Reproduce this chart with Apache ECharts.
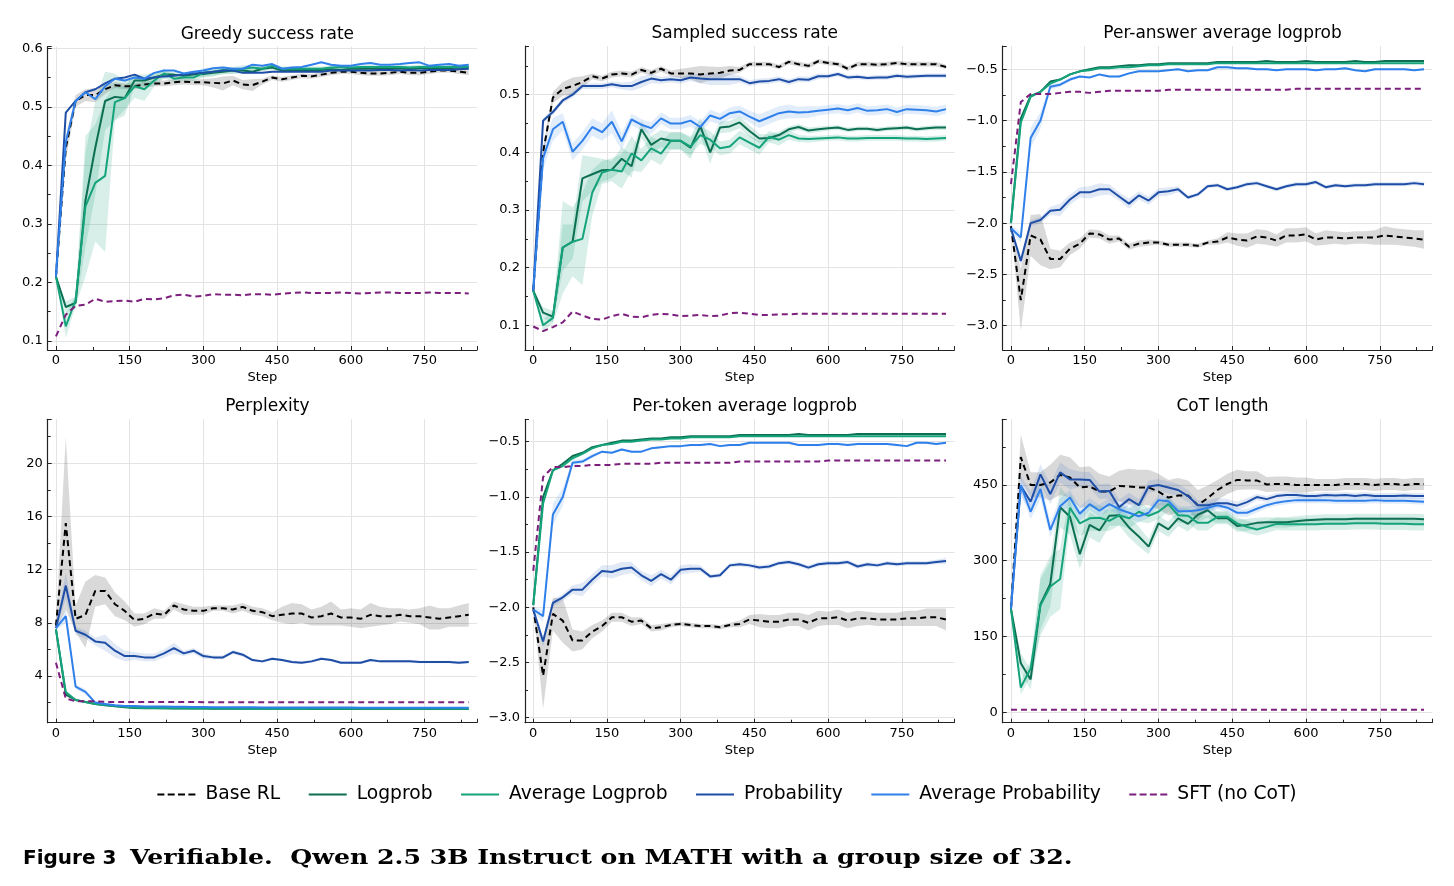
<!DOCTYPE html>
<html>
<head>
<meta charset="utf-8">
<title>Figure 3</title>
<style>
  html, body { margin: 0; padding: 0; background: #fff; }
  #main { width: 1454px; height: 886px; }
</style>
</head>
<body>
<div id="main"></div>
<script src="https://cdn.jsdelivr.net/npm/echarts@6/dist/echarts.min.js"></script>
<script>
// training steps (x)
var steps = [0,20,40,60,80,100,120,140,160,180,
  200,220,240,260,280,300,320,340,360,380,
  400,420,440,460,480,500,520,540,560,580,
  600,620,640,660,680,700,720,740,760,780,
  800,820,840];

var seriesNames = ['Base RL','Logprob','Average Logprob','Probability','Average Probability','SFT (no CoT)'];

// ---- Greedy success rate ----
var greedyBase = [0.21,0.43,0.51,0.52,0.52,0.53,0.537,0.535,0.535,0.538,
  0.54,0.54,0.542,0.543,0.542,0.542,0.541,0.54,0.545,0.538,
  0.537,0.543,0.55,0.547,0.55,0.553,0.552,0.555,0.558,0.56,
  0.56,0.558,0.557,0.557,0.558,0.56,0.558,0.558,0.56,0.562,
  0.562,0.56,0.558];
var greedyLogprob = [0.21,0.158,0.165,0.34,0.43,0.51,0.517,0.515,0.545,0.545,
  0.55,0.555,0.555,0.553,0.555,0.556,0.558,0.56,0.562,0.562,
  0.56,0.565,0.567,0.562,0.563,0.563,0.563,0.563,0.564,0.563,
  0.565,0.565,0.565,0.565,0.565,0.566,0.565,0.566,0.566,0.566,
  0.566,0.567,0.567];
var greedyAvgLogprob = [0.21,0.125,0.17,0.33,0.37,0.382,0.508,0.515,0.535,0.53,
  0.545,0.557,0.548,0.55,0.55,0.558,0.56,0.563,0.562,0.565,
  0.567,0.565,0.57,0.565,0.565,0.565,0.565,0.565,0.567,0.568,
  0.567,0.568,0.568,0.568,0.568,0.568,0.567,0.568,0.568,0.568,
  0.568,0.568,0.568];
var greedyProb = [0.21,0.49,0.51,0.525,0.53,0.54,0.548,0.55,0.555,0.548,
  0.55,0.552,0.553,0.555,0.557,0.558,0.56,0.562,0.562,0.558,
  0.558,0.558,0.56,0.56,0.56,0.56,0.56,0.56,0.562,0.562,
  0.562,0.562,0.562,0.563,0.563,0.562,0.563,0.562,0.563,0.563,
  0.563,0.564,0.565];
var greedyAvgProb = [0.21,0.44,0.51,0.525,0.513,0.535,0.548,0.545,0.55,0.548,
  0.558,0.562,0.562,0.557,0.56,0.562,0.566,0.567,0.565,0.565,
  0.572,0.57,0.573,0.565,0.567,0.568,0.572,0.576,0.572,0.57,
  0.57,0.573,0.575,0.572,0.572,0.573,0.575,0.576,0.57,0.572,
  0.573,0.57,0.572];
var greedySFT = [0.108,0.145,0.16,0.162,0.172,0.167,0.168,0.169,0.167,0.172,
  0.171,0.173,0.178,0.179,0.176,0.177,0.18,0.179,0.179,0.178,
  0.18,0.18,0.179,0.181,0.182,0.183,0.182,0.182,0.182,0.183,
  0.182,0.181,0.182,0.183,0.183,0.182,0.182,0.182,0.183,0.182,
  0.182,0.182,0.181];
var greedyBaseSd = [0,0.02,0.01,0.01,0.012,0.008,0.005,0.005,0.005,0.005,
  0.005,0.005,0.005,0.005,0.005,0.005,0.008,0.012,0.008,0.008,
  0.01,0.005,0.004,0.004,0.004,0.004,0.004,0.004,0.004,0.004,
  0.004,0.004,0.004,0.004,0.004,0.004,0.004,0.004,0.004,0.004,
  0.004,0.004,0.004];
var greedyLogprobSd = [0,0.01,0.01,0.08,0.08,0.05,0.04,0.03,0.01,0.01,
  0.008,0.006,0.005,0.005,0.005,0.005,0.005,0.005,0.005,0.005,
  0.004,0.004,0.004,0.004,0.004,0.004,0.004,0.004,0.004,0.004,
  0.004,0.004,0.004,0.004,0.004,0.004,0.004,0.004,0.004,0.004,
  0.004,0.004,0.004];
var greedyAvgLogprobSd = [0,0.02,0.01,0.12,0.1,0.13,0.03,0.02,0.02,0.02,
  0.01,0.008,0.006,0.006,0.006,0.008,0.008,0.006,0.006,0.006,
  0.004,0.004,0.004,0.004,0.004,0.004,0.004,0.004,0.004,0.004,
  0.004,0.004,0.004,0.004,0.004,0.004,0.004,0.004,0.004,0.004,
  0.004,0.004,0.004];

// ---- Sampled success rate ----
var sampledBase = [0.16,0.4,0.495,0.51,0.515,0.522,0.532,0.528,0.535,0.537,
  0.535,0.543,0.538,0.545,0.537,0.537,0.537,0.535,0.537,0.538,
  0.542,0.543,0.553,0.553,0.553,0.548,0.557,0.553,0.55,0.558,
  0.555,0.553,0.545,0.553,0.553,0.552,0.553,0.555,0.553,0.553,
  0.553,0.553,0.548];
var sampledLogprob = [0.16,0.122,0.115,0.235,0.245,0.355,0.362,0.369,0.37,0.389,
  0.376,0.44,0.413,0.424,0.42,0.42,0.408,0.445,0.4,0.443,
  0.445,0.452,0.437,0.424,0.425,0.43,0.44,0.444,0.438,0.44,
  0.442,0.443,0.439,0.441,0.441,0.439,0.441,0.442,0.443,0.44,
  0.442,0.443,0.443];
var sampledAvgLogprob = [0.16,0.1,0.113,0.235,0.245,0.25,0.33,0.365,0.37,0.367,
  0.398,0.386,0.407,0.398,0.42,0.42,0.41,0.43,0.422,0.407,
  0.41,0.426,0.417,0.408,0.427,0.422,0.43,0.424,0.423,0.424,
  0.425,0.426,0.424,0.424,0.425,0.425,0.425,0.425,0.424,0.424,
  0.423,0.424,0.425];
var sampledProb = [0.16,0.455,0.47,0.49,0.5,0.515,0.515,0.515,0.518,0.515,
  0.515,0.522,0.528,0.525,0.527,0.525,0.53,0.528,0.527,0.527,
  0.527,0.527,0.52,0.523,0.524,0.527,0.522,0.527,0.526,0.532,
  0.532,0.536,0.53,0.531,0.529,0.53,0.53,0.533,0.531,0.532,
  0.533,0.533,0.533];
var sampledAvgProb = [0.16,0.39,0.44,0.453,0.401,0.42,0.444,0.435,0.453,0.419,
  0.457,0.448,0.442,0.459,0.45,0.45,0.455,0.444,0.464,0.458,
  0.468,0.471,0.462,0.454,0.461,0.468,0.471,0.469,0.47,0.472,
  0.474,0.476,0.473,0.477,0.472,0.473,0.475,0.47,0.475,0.474,
  0.473,0.471,0.475];
var sampledSFT = [0.098,0.09,0.097,0.105,0.124,0.117,0.111,0.11,0.116,0.12,
  0.115,0.114,0.118,0.12,0.119,0.116,0.117,0.118,0.116,0.117,
  0.121,0.122,0.12,0.118,0.118,0.119,0.119,0.12,0.12,0.12,
  0.12,0.12,0.12,0.12,0.12,0.12,0.12,0.12,0.12,0.12,
  0.12,0.12,0.12];
var sampledBaseSd = [0,0.01,0.01,0.012,0.015,0.01,0.005,0.005,0.005,0.005,
  0.005,0.005,0.005,0.005,0.005,0.008,0.01,0.015,0.012,0.01,
  0.008,0.005,0.004,0.004,0.004,0.004,0.004,0.004,0.004,0.004,
  0.004,0.004,0.004,0.004,0.004,0.004,0.004,0.004,0.004,0.004,
  0.004,0.004,0.004];
var sampledProbSd = [0,0.005,0.005,0.005,0.005,0.005,0.005,0.005,0.005,0.006,
  0.008,0.01,0.008,0.006,0.006,0.006,0.006,0.008,0.01,0.01,
  0.01,0.006,0.005,0.005,0.005,0.005,0.005,0.005,0.005,0.005,
  0.004,0.004,0.004,0.004,0.004,0.004,0.004,0.004,0.004,0.004,
  0.004,0.004,0.004];
var sampledAvgProbSd = [0,0.02,0.02,0.015,0.015,0.015,0.015,0.015,0.02,0.015,
  0.01,0.01,0.01,0.01,0.01,0.01,0.01,0.01,0.01,0.01,
  0.01,0.01,0.01,0.012,0.012,0.012,0.012,0.01,0.01,0.008,
  0.008,0.008,0.008,0.008,0.008,0.008,0.008,0.008,0.008,0.008,
  0.008,0.008,0.008];
var sampledLogprobSd = [0,0.01,0.01,0.04,0.03,0.04,0.03,0.02,0.015,0.02,
  0.02,0.015,0.015,0.015,0.015,0.015,0.02,0.015,0.02,0.01,
  0.01,0.01,0.01,0.008,0.006,0.006,0.005,0.005,0.005,0.005,
  0.004,0.004,0.004,0.004,0.004,0.004,0.004,0.004,0.004,0.004,
  0.004,0.004,0.004];
var sampledAvgLogprobSd = [0,0.01,0.01,0.08,0.06,0.08,0.04,0.02,0.02,0.03,
  0.03,0.02,0.02,0.02,0.015,0.015,0.015,0.015,0.015,0.012,
  0.012,0.012,0.012,0.012,0.01,0.01,0.008,0.006,0.006,0.005,
  0.005,0.005,0.005,0.005,0.005,0.005,0.005,0.005,0.005,0.005,
  0.005,0.005,0.005];

// ---- Per-answer average logprob ----
var answerBase = [-2.03,-2.75,-2.12,-2.16,-2.35,-2.35,-2.25,-2.2,-2.1,-2.11,
  -2.16,-2.15,-2.23,-2.2,-2.19,-2.19,-2.21,-2.21,-2.21,-2.22,
  -2.19,-2.18,-2.14,-2.16,-2.17,-2.13,-2.14,-2.17,-2.12,-2.12,
  -2.11,-2.16,-2.14,-2.14,-2.15,-2.14,-2.14,-2.14,-2.12,-2.13,
  -2.14,-2.15,-2.16];
var answerLogprob = [-2.0,-0.98,-0.76,-0.72,-0.62,-0.6,-0.55,-0.52,-0.5,-0.48,
  -0.48,-0.47,-0.46,-0.46,-0.45,-0.45,-0.44,-0.44,-0.44,-0.44,
  -0.44,-0.43,-0.43,-0.43,-0.43,-0.43,-0.42,-0.43,-0.43,-0.43,
  -0.42,-0.43,-0.43,-0.43,-0.43,-0.42,-0.43,-0.43,-0.42,-0.42,
  -0.42,-0.42,-0.42];
var answerAvgLogprob = [-2.0,-1.02,-0.77,-0.72,-0.64,-0.6,-0.55,-0.52,-0.51,-0.49,
  -0.49,-0.48,-0.48,-0.47,-0.46,-0.46,-0.45,-0.45,-0.45,-0.45,
  -0.45,-0.44,-0.44,-0.44,-0.44,-0.44,-0.44,-0.44,-0.44,-0.44,
  -0.44,-0.44,-0.44,-0.44,-0.44,-0.44,-0.44,-0.44,-0.44,-0.44,
  -0.44,-0.44,-0.44];
var answerProb = [-2.05,-2.37,-2.0,-1.97,-1.88,-1.87,-1.77,-1.7,-1.7,-1.67,
  -1.67,-1.74,-1.81,-1.73,-1.78,-1.7,-1.69,-1.67,-1.75,-1.72,
  -1.64,-1.63,-1.67,-1.65,-1.62,-1.61,-1.64,-1.67,-1.64,-1.62,
  -1.62,-1.6,-1.65,-1.63,-1.64,-1.63,-1.63,-1.62,-1.62,-1.62,
  -1.62,-1.61,-1.62];
var answerAvgProb = [-2.05,-2.14,-1.17,-1.0,-0.67,-0.65,-0.6,-0.57,-0.58,-0.55,
  -0.57,-0.57,-0.54,-0.52,-0.52,-0.52,-0.51,-0.5,-0.52,-0.51,
  -0.51,-0.48,-0.48,-0.49,-0.49,-0.5,-0.5,-0.51,-0.5,-0.5,
  -0.5,-0.51,-0.5,-0.5,-0.49,-0.51,-0.52,-0.5,-0.5,-0.5,
  -0.5,-0.51,-0.5];
var answerSFT = [-1.62,-0.82,-0.74,-0.74,-0.74,-0.73,-0.72,-0.72,-0.73,-0.72,
  -0.71,-0.71,-0.71,-0.71,-0.71,-0.71,-0.7,-0.7,-0.7,-0.7,
  -0.7,-0.7,-0.7,-0.7,-0.7,-0.7,-0.7,-0.7,-0.7,-0.69,
  -0.69,-0.69,-0.69,-0.69,-0.69,-0.69,-0.69,-0.69,-0.69,-0.69,
  -0.69,-0.69,-0.69];
var answerBaseSd = [0,0.3,0.2,0.25,0.1,0.08,0.06,0.05,0.04,0.04,
  0.04,0.03,0.03,0.03,0.03,0.02,0.02,0.02,0.02,0.02,
  0.02,0.03,0.05,0.06,0.07,0.07,0.07,0.06,0.07,0.07,
  0.07,0.06,0.07,0.06,0.06,0.06,0.06,0.07,0.09,0.08,
  0.08,0.08,0.09];
var answerProbSd = [0.02,0.05,0.03,0.03,0.04,0.06,0.05,0.05,0.06,0.06,
  0.05,0.04,0.05,0.04,0.04,0.04,0.04,0.03,0.02,0.02,
  0.02,0.02,0.02,0.02,0.02,0.02,0.02,0.02,0.02,0.02,
  0.02,0.02,0.02,0.02,0.02,0.02,0.02,0.02,0.02,0.02,
  0.02,0.02,0.02];
var answerAvgProbSd = [0.03,0.05,0.1,0.08,0.03,0.02,0.02,0.01,0.01,0.01,
  0.01,0.01,0.01,0.01,0.01,0.01,0.01,0.01,0.01,0.01,
  0.01,0.01,0.01,0.01,0.01,0.01,0.01,0.01,0.01,0.01,
  0.01,0.01,0.01,0.01,0.01,0.01,0.01,0.01,0.01,0.01,
  0.01,0.01,0.01];

// ---- Perplexity ----
var pplBase = [7.8,15.5,8.3,8.6,10.4,10.4,9.4,8.9,8.2,8.3,
  8.7,8.6,9.3,9.0,8.9,8.9,9.1,9.1,9.0,9.2,
  8.9,8.8,8.5,8.6,8.7,8.7,8.4,8.5,8.7,8.4,
  8.4,8.3,8.6,8.5,8.5,8.6,8.5,8.5,8.4,8.3,
  8.4,8.5,8.6];
var pplLogprob = [7.5,2.6,2.2,2.05,1.9,1.8,1.72,1.65,1.6,1.58,
  1.57,1.57,1.56,1.56,1.55,1.55,1.54,1.54,1.54,1.53,
  1.53,1.53,1.53,1.53,1.53,1.53,1.52,1.52,1.52,1.52,
  1.52,1.52,1.52,1.52,1.52,1.52,1.52,1.52,1.52,1.52,
  1.52,1.52,1.52];
var pplAvgLogprob = [7.5,2.8,2.2,2.05,1.9,1.82,1.75,1.68,1.62,1.6,
  1.59,1.58,1.57,1.57,1.56,1.56,1.55,1.55,1.55,1.54,
  1.54,1.54,1.54,1.54,1.53,1.53,1.53,1.53,1.53,1.53,
  1.53,1.53,1.53,1.53,1.53,1.53,1.53,1.53,1.53,1.53,
  1.53,1.53,1.53];
var pplProb = [7.6,10.8,7.4,7.1,6.6,6.5,5.9,5.5,5.5,5.4,
  5.4,5.7,6.1,5.7,5.9,5.5,5.4,5.4,5.8,5.6,
  5.2,5.1,5.3,5.2,5.05,5.0,5.1,5.3,5.2,5.0,
  5.0,5.0,5.2,5.1,5.1,5.1,5.1,5.05,5.05,5.05,
  5.05,5.0,5.05];
var pplAvgProb = [7.6,8.5,3.2,2.8,2.0,1.9,1.8,1.75,1.75,1.7,
  1.7,1.7,1.68,1.68,1.66,1.66,1.65,1.65,1.65,1.65,
  1.65,1.63,1.63,1.63,1.63,1.63,1.63,1.63,1.63,1.63,
  1.63,1.62,1.62,1.62,1.62,1.62,1.62,1.62,1.62,1.62,
  1.62,1.62,1.62];
var pplSFT = [5.0,2.3,2.1,2.1,2.1,2.05,2.05,2.05,2.05,2.05,
  2.05,2.05,2.05,2.05,2.05,2.03,2.03,2.03,2.03,2.03,
  2.03,2.03,2.03,2.03,2.02,2.02,2.02,2.02,2.02,2.02,
  2.02,2.02,2.02,2.02,2.02,2.02,2.02,2.02,2.02,2.02,
  2.02,2.02,2.02];
var pplBaseSd = [0.3,6.5,1.0,2.5,1.2,1.0,0.9,0.7,0.5,0.4,
  0.4,0.3,0.3,0.4,0.3,0.3,0.2,0.2,0.3,0.3,
  0.3,0.3,0.3,0.6,0.8,0.7,0.6,0.7,0.9,0.6,
  0.7,0.7,0.9,0.7,0.6,0.5,0.5,0.6,0.9,0.8,
  0.7,0.8,0.9];
var pplProbSd = [0.2,1.0,0.3,0.3,0.3,0.6,0.5,0.4,0.3,0.3,
  0.3,0.3,0.4,0.2,0.2,0.2,0.15,0.15,0.15,0.15,
  0.1,0.1,0.1,0.1,0.1,0.1,0.1,0.1,0.1,0.1,
  0.1,0.1,0.1,0.1,0.1,0.1,0.1,0.1,0.1,0.1,
  0.1,0.1,0.1];
var pplAvgProbSd = [0.2,0.5,0.2,0.2,0.1,0.05,0.05,0.05,0.05,0.05,
  0.05,0.05,0.05,0.05,0.05,0.05,0.05,0.05,0.05,0.05,
  0.05,0.05,0.05,0.05,0.05,0.05,0.05,0.05,0.05,0.05,
  0.05,0.05,0.05,0.05,0.05,0.05,0.05,0.05,0.05,0.05,
  0.05,0.05,0.05];

// ---- Per-token average logprob ----
var tokenBase = [-2.0,-2.62,-2.06,-2.12,-2.3,-2.3,-2.22,-2.17,-2.09,-2.09,
  -2.13,-2.12,-2.19,-2.18,-2.16,-2.15,-2.16,-2.17,-2.17,-2.18,
  -2.16,-2.15,-2.11,-2.12,-2.13,-2.13,-2.11,-2.11,-2.14,-2.1,
  -2.1,-2.09,-2.12,-2.1,-2.1,-2.11,-2.11,-2.11,-2.1,-2.1,
  -2.09,-2.09,-2.11];
var tokenLogprob = [-1.98,-1.0,-0.76,-0.7,-0.63,-0.6,-0.55,-0.53,-0.51,-0.49,
  -0.49,-0.48,-0.47,-0.47,-0.46,-0.46,-0.45,-0.45,-0.45,-0.45,
  -0.45,-0.44,-0.44,-0.44,-0.44,-0.44,-0.44,-0.43,-0.44,-0.44,
  -0.44,-0.44,-0.44,-0.43,-0.43,-0.43,-0.43,-0.43,-0.43,-0.43,
  -0.43,-0.43,-0.43];
var tokenAvgLogprob = [-1.98,-1.06,-0.76,-0.72,-0.65,-0.61,-0.56,-0.53,-0.52,-0.5,
  -0.5,-0.49,-0.48,-0.48,-0.47,-0.47,-0.46,-0.46,-0.46,-0.46,
  -0.46,-0.45,-0.45,-0.45,-0.45,-0.45,-0.45,-0.45,-0.45,-0.45,
  -0.45,-0.45,-0.45,-0.45,-0.45,-0.45,-0.45,-0.45,-0.45,-0.45,
  -0.45,-0.45,-0.45];
var tokenProb = [-2.02,-2.31,-1.96,-1.91,-1.84,-1.84,-1.75,-1.67,-1.68,-1.65,
  -1.64,-1.71,-1.76,-1.7,-1.75,-1.66,-1.65,-1.65,-1.72,-1.71,
  -1.62,-1.61,-1.62,-1.64,-1.63,-1.6,-1.59,-1.61,-1.64,-1.61,
  -1.6,-1.6,-1.59,-1.63,-1.61,-1.62,-1.6,-1.61,-1.6,-1.6,
  -1.6,-1.59,-1.58];
var tokenAvgProb = [-2.02,-2.08,-1.16,-1.0,-0.69,-0.68,-0.63,-0.59,-0.6,-0.57,
  -0.59,-0.59,-0.56,-0.55,-0.54,-0.54,-0.53,-0.53,-0.52,-0.54,
  -0.53,-0.53,-0.51,-0.51,-0.51,-0.51,-0.51,-0.53,-0.53,-0.53,
  -0.52,-0.52,-0.53,-0.52,-0.52,-0.52,-0.52,-0.53,-0.54,-0.51,
  -0.51,-0.52,-0.51];
var tokenSFT = [-1.67,-0.82,-0.73,-0.73,-0.72,-0.72,-0.71,-0.71,-0.71,-0.7,
  -0.7,-0.7,-0.7,-0.69,-0.69,-0.69,-0.69,-0.69,-0.69,-0.69,
  -0.69,-0.68,-0.68,-0.68,-0.68,-0.68,-0.68,-0.68,-0.68,-0.68,
  -0.67,-0.67,-0.67,-0.67,-0.67,-0.67,-0.67,-0.67,-0.67,-0.67,
  -0.67,-0.67,-0.67];
var tokenBaseSd = [0,0.3,0.15,0.2,0.1,0.08,0.06,0.05,0.04,0.04,
  0.04,0.03,0.03,0.03,0.02,0.02,0.02,0.02,0.02,0.02,
  0.02,0.03,0.04,0.06,0.06,0.06,0.06,0.06,0.07,0.07,
  0.06,0.07,0.07,0.07,0.06,0.06,0.06,0.06,0.07,0.07,
  0.08,0.08,0.1];
var tokenProbSd = [0.02,0.05,0.03,0.03,0.04,0.06,0.05,0.05,0.06,0.06,
  0.05,0.04,0.05,0.04,0.04,0.04,0.04,0.03,0.02,0.02,
  0.02,0.02,0.02,0.02,0.02,0.02,0.02,0.02,0.02,0.02,
  0.02,0.02,0.02,0.02,0.02,0.02,0.02,0.02,0.02,0.02,
  0.02,0.02,0.03];
var tokenAvgProbSd = [0.03,0.05,0.1,0.08,0.03,0.02,0.02,0.01,0.01,0.01,
  0.01,0.01,0.01,0.01,0.01,0.01,0.01,0.01,0.01,0.01,
  0.01,0.01,0.01,0.01,0.01,0.01,0.01,0.01,0.01,0.01,
  0.01,0.01,0.01,0.01,0.01,0.01,0.01,0.01,0.01,0.01,
  0.01,0.01,0.01];

// ---- CoT length ----
var cotBase = [205,505,450,450,455,470,465,445,447,437,
  437,448,447,445,445,437,425,429,429,410,
  424,440,452,460,459,459,451,452,452,450,
  450,450,450,450,452,452,452,450,452,452,
  450,452,452];
var cotLogprob = [205,97,65,214,254,406,387,313,371,360,
  389,390,366,348,328,374,362,384,373,391,
  400,384,384,369,371,375,376,376,376,378,
  380,381,382,382,382,383,383,383,383,383,
  383,383,382];
var cotAvgLogprob = [205,49,87,212,249,264,405,374,384,385,
  379,390,384,397,389,397,412,390,389,375,
  375,387,387,374,367,362,367,373,372,372,
  372,372,373,373,373,374,374,374,373,373,
  373,372,372];
var cotProb = [205,448,417,471,432,475,461,461,460,437,
  438,406,422,410,447,450,445,440,428,410,
  410,414,414,409,416,426,422,428,430,430,
  428,428,430,429,430,428,430,428,428,428,
  429,428,428];
var cotAvgProb = [205,450,397,442,361,408,425,393,412,399,
  412,402,395,388,395,420,418,398,398,400,
  405,410,405,395,395,403,410,415,418,420,
  420,420,420,419,419,419,419,420,419,419,
  419,418,417];
var cotSFT = [5,5,5,5,5,5,5,5,5,5,
  5,5,5,5,5,5,5,5,5,5,
  5,5,5,5,5,5,5,5,5,5,
  5,5,5,5,5,5,5,5,5,5,
  5,5,5];
var cotBaseSd = [5,45,25,25,35,40,40,40,40,35,
  30,30,35,35,35,35,35,35,30,30,
  25,20,20,20,18,18,15,15,15,15,
  15,12,12,12,12,12,12,12,12,12,
  12,12,12];
var cotProbSd = [5,20,20,20,20,20,20,15,15,15,
  15,15,12,12,12,12,12,12,12,10,
  10,10,8,8,8,6,6,6,6,6,
  6,6,6,6,6,6,6,6,6,6,
  6,6,6];
var cotAvgProbSd = [5,15,15,20,15,15,15,15,12,12,
  12,12,12,12,10,10,10,10,10,10,
  10,8,8,8,8,8,6,6,6,6,
  6,6,6,6,6,6,6,6,6,6,
  6,6,6];
var cotLogprobSd = [5,20,20,50,45,40,35,30,25,25,
  20,20,20,20,15,15,15,15,15,15,
  15,12,12,12,12,10,10,10,10,10,
  10,10,10,10,10,10,10,10,10,10,
  10,10,10];
var cotAvgLogprobSd = [5,15,15,60,60,60,30,25,25,25,
  20,20,20,20,15,15,15,15,15,15,
  15,12,12,12,12,12,12,12,12,12,
  12,12,12,12,12,12,12,12,12,12,
  12,12,12];

// styles
var lineColors = ['#000000', '#0d6f52', '#14a37a', '#1e4ea6', '#2f80ea', '#7c1f7c'];
var bandColors = ['rgba(0,0,0,0.15)', 'rgba(16,150,110,0.17)', 'rgba(16,160,120,0.17)',
                  'rgba(40,90,190,0.14)', 'rgba(47,128,234,0.14)', 'rgba(124,31,124,0.14)'];
var dashedLine = [true, false, false, false, false, true];
var dashIcon = 'path://M0,0H7V2H0Z M10.3,0H17.3V2H10.3Z M20.6,0H27.6V2H20.6Z M31,0H38V2H31Z';
var solidIcon = 'path://M0,0H38V2H0Z';

function fmt1(v) { return v.toFixed(1); }
function fmtNeg(v) { return (v < 0 ? '\u2212' : '') + Math.abs(v).toFixed(1); }
function fmtInt(v) { return String(Math.round(v)); }

// panel layout: [left, top, width, height]
var panels = [
  { title: 'Greedy success rate', box: [47.7, 46.7, 429.3, 303.3], y: [0.0846, 0.6027, 0.1], fmt: fmt1,
    lines: [greedyBase, greedyLogprob, greedyAvgLogprob, greedyProb, greedyAvgProb, greedySFT],
    bands: [[0, greedyBaseSd], [1, greedyLogprobSd], [2, greedyAvgLogprobSd]] },
  { title: 'Sampled success rate', box: [525, 46, 429.3, 304], y: [0.0572, 0.5845, 0.1], fmt: fmt1,
    lines: [sampledBase, sampledLogprob, sampledAvgLogprob, sampledProb, sampledAvgProb, sampledSFT],
    bands: [[0, sampledBaseSd], [1, sampledLogprobSd], [2, sampledAvgLogprobSd], [3, sampledProbSd], [4, sampledAvgProbSd]] },
  { title: 'Per-answer average logprob', box: [1002.7, 46, 429.6, 304], y: [-3.237, -0.273, 0.5], fmt: fmtNeg,
    lines: [answerBase, answerLogprob, answerAvgLogprob, answerProb, answerAvgProb, answerSFT],
    bands: [[0, answerBaseSd], [3, answerProbSd], [4, answerAvgProbSd]] },
  { title: 'Perplexity', box: [47.7, 419.3, 429.3, 303.4], y: [0.486, 23.31, 4], fmt: fmtInt,
    lines: [pplBase, pplLogprob, pplAvgLogprob, pplProb, pplAvgProb, pplSFT],
    bands: [[0, pplBaseSd], [3, pplProbSd], [4, pplAvgProbSd]] },
  { title: 'Per-token average logprob', box: [525, 419.3, 429.3, 303.4], y: [-3.045, -0.297, 0.5], fmt: fmtNeg,
    lines: [tokenBase, tokenLogprob, tokenAvgLogprob, tokenProb, tokenAvgProb, tokenSFT],
    bands: [[0, tokenBaseSd], [3, tokenProbSd], [4, tokenAvgProbSd]] },
  { title: 'CoT length', box: [1002.7, 419.3, 429.6, 303.4], y: [-20.6, 580, 150], fmt: fmtInt,
    lines: [cotBase, cotLogprob, cotAvgLogprob, cotProb, cotAvgProb, cotSFT],
    bands: [[0, cotBaseSd], [1, cotLogprobSd], [2, cotAvgLogprobSd], [3, cotProbSd], [4, cotAvgProbSd]] }
];

var font = 'DejaVu Sans';
var axisColor = '#222';
var grids = [], xAxes = [], yAxes = [], titles = [], series = [];

// a band polygon drawn through the grid's own coordinate system
function bandRender(vals, sd, color) {
  return function (params, api) {
    if (params.dataIndex !== 0) return null;
    var pts = [], j;
    for (j = 0; j < steps.length; j++) pts.push(api.coord([steps[j], vals[j] + sd[j]]));
    for (j = steps.length - 1; j >= 0; j--) pts.push(api.coord([steps[j], vals[j] - sd[j]]));
    return { type: 'polygon', shape: { points: pts }, style: { fill: color }, silent: true };
  };
}

panels.forEach(function (p, i) {
  grids.push({ left: p.box[0], top: p.box[1], width: p.box[2], height: p.box[3] });
  titles.push({
    text: p.title, left: p.box[0] + p.box[2] / 2, top: p.box[1] - 26, textAlign: 'center',
    textStyle: { fontFamily: font, fontSize: 17, fontWeight: 'normal', color: '#000' }
  });
  xAxes.push({
    type: 'value', gridIndex: i, min: -16.8, max: 856.8, minInterval: 150, maxInterval: 150,
    name: 'Step', nameLocation: 'middle', nameGap: 21,
    nameTextStyle: { fontFamily: font, fontSize: 13, color: '#000' },
    axisLine: { onZero: false, lineStyle: { color: axisColor, width: 1.2 } },
    axisTick: { inside: true, length: 4, lineStyle: { color: axisColor } },
    minorTick: { show: true, splitNumber: 2, length: 3, lineStyle: { color: axisColor } },
    axisLabel: { fontFamily: font, fontSize: 13, color: '#000', margin: 4, formatter: fmtInt,
                 showMinLabel: false, showMaxLabel: false },
    splitLine: { show: true, showMinLine: false, showMaxLine: false, lineStyle: { color: '#e3e3e3', width: 1 } }
  });
  yAxes.push({
    type: 'value', gridIndex: i, min: p.y[0], max: p.y[1], minInterval: p.y[2], maxInterval: p.y[2],
    axisLine: { show: true, onZero: false, lineStyle: { color: axisColor, width: 1.2 } },
    axisTick: { show: true, inside: true, length: 4, lineStyle: { color: axisColor } },
    minorTick: { show: true, splitNumber: 2, length: 3, lineStyle: { color: axisColor } },
    axisLabel: { fontFamily: font, fontSize: 13, color: '#000', margin: 5, formatter: p.fmt,
                 showMinLabel: false, showMaxLabel: false },
    splitLine: { show: true, showMinLine: false, showMaxLine: false, lineStyle: { color: '#e3e3e3', width: 1 } }
  });

  // shaded spread bands
  p.bands.forEach(function (b) {
    var k = b[0], sd = b[1], vals = p.lines[k];
    series.push({
      type: 'custom', xAxisIndex: i, yAxisIndex: i, clip: true, silent: true, z: 1,
      renderItem: bandRender(vals, sd, bandColors[k]),
      data: [[steps[0], vals[0]]]
    });
  });

  p.lines.forEach(function (vals, k) {
    series.push({
      name: seriesNames[k], type: 'line', xAxisIndex: i, yAxisIndex: i,
      symbol: 'none', z: 3,
      itemStyle: { color: lineColors[k] },
      lineStyle: { color: lineColors[k], width: 2, type: dashedLine[k] ? [6, 4] : 'solid' },
      data: steps.map(function (s, j) { return [s, vals[j]]; })
    });
  });
});

var chart = echarts.init(document.getElementById('main'), null, { renderer: 'canvas' });
chart.setOption({
  animation: false,
  backgroundColor: '#fff',
  title: titles,
  grid: grids,
  xAxis: xAxes,
  yAxis: yAxes,
  legend: {
    data: seriesNames.map(function (n, k) {
      return { name: n, icon: dashedLine[k] ? dashIcon : solidIcon };
    }),
    left: 'center', top: 780,
    itemWidth: 38, itemHeight: 2, itemGap: 28.5,
    textStyle: { fontFamily: font, fontSize: 18.7, color: '#000', padding: [0, 0, 0, 5] }
  },
  graphic: [
    { type: 'text', x: 23, y: 859,
      style: { text: 'Figure 3', font: 'bold 20px "DejaVu Sans"', fill: '#000', verticalAlign: 'middle' } },
    { type: 'text', x: 130, y: 859, scaleX: 1.2,
      style: { text: 'Verifiable.  Qwen 2.5 3B Instruct on MATH with a group size of 32.', font: 'bold 21px "DejaVu Serif"', fill: '#000', verticalAlign: 'middle' } }
  ],
  series: series
});
</script>
</body>
</html>
